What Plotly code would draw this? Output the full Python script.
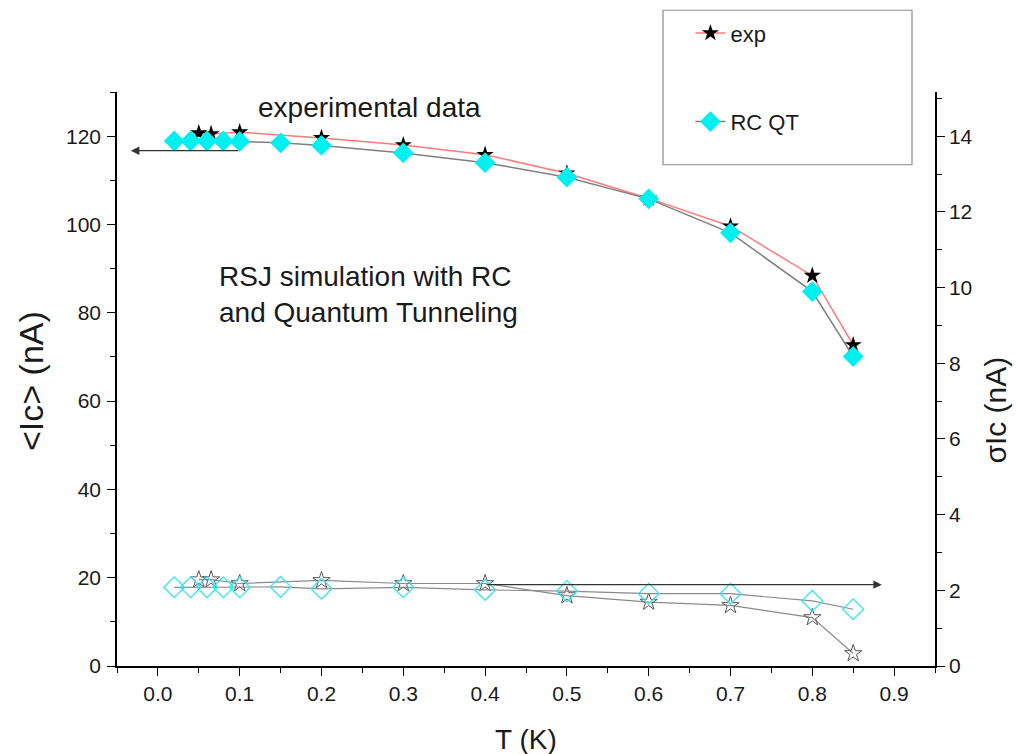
import plotly.graph_objects as go

# ---- data ----
T_exp = [0.05, 0.065, 0.1, 0.2, 0.3, 0.4, 0.5, 0.6, 0.7, 0.8, 0.85]
Ic_exp = [120.7, 120.5, 120.9, 119.6, 118.0, 115.8, 111.6, 105.9, 99.6, 88.4, 72.7]
sigma_exp = [2.28, 2.28, 2.18, 2.26, 2.18, 2.18, 1.86, 1.69, 1.60, 1.28, 0.33]

T_sim = [0.02, 0.04, 0.06, 0.08, 0.1, 0.15, 0.2, 0.3, 0.4, 0.5, 0.6, 0.7, 0.8, 0.85]
Ic_sim = [118.9, 118.9, 118.9, 118.9, 118.8, 118.5, 117.9, 116.2, 114.0, 110.7, 105.8, 98.1, 84.8, 70.1]
sigma_sim = [2.08, 2.08, 2.08, 2.08, 2.08, 2.09, 2.04, 2.08, 2.01, 1.98, 1.91, 1.91, 1.72, 1.50]

x_ticks = [0.0, 0.1, 0.2, 0.3, 0.4, 0.5, 0.6, 0.7, 0.8, 0.9]
y_ticks = [0, 20, 40, 60, 80, 100, 120]
y2_ticks = [0, 2, 4, 6, 8, 10, 12, 14]

FONT = "Liberation Sans, Arial, sans-serif"
TXT = "#1a1a1a"

fig = go.Figure()

fig.add_trace(go.Scatter(
    x=T_exp, y=Ic_exp, mode="lines+markers", name="exp",
    legendgroup="a",
    line=dict(color="#ff7a7a", width=1.5),
    marker=dict(symbol="star", size=13, color="black", line=dict(width=0)),
))
fig.add_trace(go.Scatter(
    x=T_sim, y=Ic_sim, mode="lines+markers", name="RC QT",
    legendgroup="b",
    line=dict(color="#7f7f7f", width=1.5),
    marker=dict(symbol="diamond", size=16, color="#00f0f0", line=dict(width=0)),
))
fig.add_trace(go.Scatter(
    x=T_exp, y=sigma_exp, mode="lines+markers", yaxis="y2", showlegend=False,
    line=dict(color="#8a8a8a", width=1.2),
    marker=dict(symbol="star-open", size=13, color="#555555", line=dict(width=1)),
))
fig.add_trace(go.Scatter(
    x=T_sim, y=sigma_sim, mode="lines+markers", yaxis="y2", showlegend=False,
    line=dict(color="#8a8a8a", width=1.2),
    marker=dict(symbol="diamond-open", size=16, color="#33e6f0", line=dict(width=1.3)),
))

axis_common = dict(
    showline=True, linecolor="black", linewidth=1.5, showgrid=False, zeroline=False,
    ticks="outside", ticklen=8, tickwidth=1.3, tickcolor="black", automargin=False,
    tickfont=dict(family=FONT, size=21, color=TXT),
)

fig.update_layout(
    width=1017, height=754,
    margin=dict(l=117, r=82, t=90, b=88),
    paper_bgcolor="white", plot_bgcolor="white",
    font=dict(family=FONT, color=TXT),
    xaxis=dict(
        range=[-0.05, 0.95], tickvals=x_ticks, tickformat=".1f",
        minor=dict(dtick=0.05, tick0=0, ticks="outside", ticklen=5, tickcolor="black", tickwidth=1.2),
        **axis_common,
    ),
    yaxis=dict(
        range=[0, 130], tickvals=y_ticks, ticklabelstandoff=2,
        minor=dict(dtick=10, tick0=0, ticks="outside", ticklen=5, tickcolor="black", tickwidth=1.2),
        **axis_common,
    ),
    yaxis2=dict(
        overlaying="y", side="right", anchor="x",
        range=[0, 130 / (120 / 14)], tickvals=y2_ticks,
        minor=dict(dtick=1, tick0=0, ticks="outside", ticklen=5, tickcolor="black", tickwidth=1.2),
        **axis_common,
    ),
    legend=dict(
        x=0.701, y=1.139, xanchor="left", yanchor="top",
        bgcolor="rgba(0,0,0,0)", borderwidth=0,
        traceorder="grouped", tracegroupgap=57,
        font=dict(family=FONT, size=22, color=TXT),
    ),
    showlegend=True,
)

# legend frame
fig.add_shape(type="rect", xref="paper", yref="paper",
              x0=0.6675, x1=0.9719, y0=0.8733, y1=1.1424,
              line=dict(color="#8c8c8c", width=1.2), fillcolor="rgba(0,0,0,0)", layer="below")

# axis titles
fig.add_annotation(text="&lt;Ic&gt; (nA)", xref="paper", yref="paper", x=-0.106, y=0.497,
                   xanchor="center", yanchor="middle", textangle=-90, showarrow=False,
                   font=dict(family=FONT, size=34, color=TXT))
fig.add_annotation(text="σIc (nA)", xref="paper", yref="paper", x=1.0746, y=0.445,
                   xanchor="center", yanchor="middle", textangle=-90, showarrow=False,
                   borderpad=0, font=dict(family=FONT, size=30, color=TXT))
fig.add_annotation(text="T (K)", xref="paper", yref="paper", x=0.5, y=-0.1285,
                   xanchor="center", yanchor="middle", showarrow=False,
                   font=dict(family=FONT, size=28, color=TXT))

# text annotations
fig.add_annotation(text="experimental data", x=0.12, y=126.4, xref="x", yref="y",
                   xanchor="left", yanchor="middle", showarrow=False,
                   font=dict(family=FONT, size=28, color=TXT))
fig.add_annotation(text="RSJ simulation with RC<br>and Quantum Tunneling", x=0.072, y=84.2,
                   xref="x", yref="y", xanchor="left", yanchor="middle", align="left",
                   showarrow=False, font=dict(family=FONT, size=28, color=TXT))

# arrows
fig.add_annotation(x=-0.033, y=116.7, ax=0.1, ay=116.7, xref="x", yref="y", axref="x", ayref="y",
                   text="", showarrow=True, arrowhead=2, arrowsize=1.3, arrowwidth=1.3, arrowcolor="#333333")
fig.add_annotation(x=0.885, y=2.15, ax=0.4, ay=2.15, xref="x", yref="y2", axref="x", ayref="y2",
                   text="", showarrow=True, arrowhead=2, arrowsize=1.3, arrowwidth=1.3, arrowcolor="#333333")

fig.write_html("out.html")
